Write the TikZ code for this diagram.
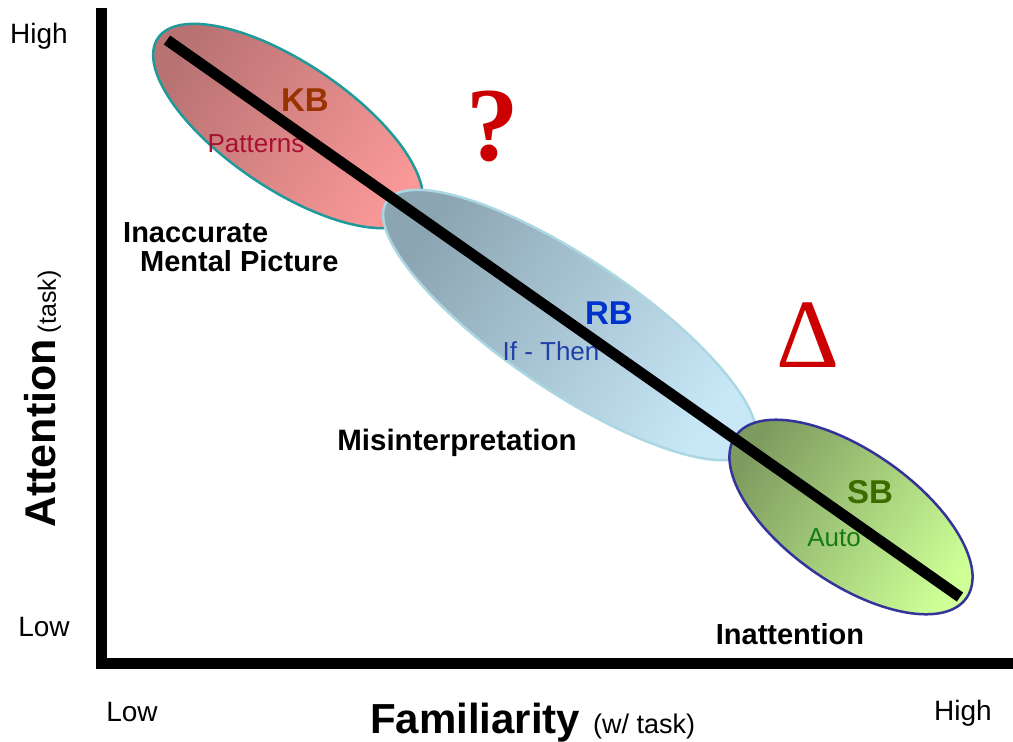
\documentclass[tikz,border=0pt]{standalone}
\usepackage{fontspec}
\setmainfont{Liberation Sans}
\newfontfamily\serifrm{Liberation Serif}
\newcommand\fsz[1]{\fontsize{#1}{#1}\selectfont}
\definecolor{kbdark}{HTML}{B87272}
\definecolor{kblight}{HTML}{FA9898}
\definecolor{kbedge}{HTML}{1E9A9A}
\definecolor{rbdark}{HTML}{8CA5B2}
\definecolor{rblight}{HTML}{C8E8F8}
\definecolor{rbedge}{HTML}{AAD7E1}
\definecolor{sbdark}{HTML}{7D9B5F}
\definecolor{sblight}{HTML}{CDFF96}
\definecolor{sbedge}{HTML}{333399}
\definecolor{kbtext}{HTML}{993300}
\definecolor{pattext}{HTML}{A8102E}
\definecolor{rbtext}{HTML}{0033CC}
\definecolor{iftext}{HTML}{2040A8}
\definecolor{sbtext}{HTML}{3D6B00}
\definecolor{autotext}{HTML}{167A16}
\definecolor{signred}{HTML}{CC0000}
\begin{document}
\begin{tikzpicture}[x=1pt,y=-1pt,
  lbl/.style={inner sep=0pt, anchor=base},
  lblw/.style={inner sep=0pt, anchor=base west},
  blob/.style={line width=2.5pt, shading angle=56},
  axisline/.style={line width=11pt, line join=miter},
  diag/.style={line width=11pt}]
\useasboundingbox (0,0) rectangle (1013,742);
% ellipses
\path[blob, draw=kbedge, top color=kbdark, bottom color=kblight, shading angle=56,
  rotate around={-34:(288,126)}] (288,126) ellipse [x radius=157, y radius=63];
\path[blob, draw=rbedge, top color=rbdark, bottom color=rblight, shading angle=56,
  rotate around={-34:(570,325)}] (570,325) ellipse [x radius=221, y radius=66];
\path[blob, draw=sbedge, top color=sbdark, bottom color=sblight, shading angle=56,
  rotate around={-35:(851,517)}] (851,517) ellipse [x radius=141, y radius=66];
% labels inside ellipses
\node[lbl, text=kbtext, font={\bfseries\fsz{33}}] (kb) at (305,111) {KB};
\node[lbl, text=pattext, font={\fsz{26}}] (pat) at (256,152) {Patterns};
\node[lbl, text=rbtext, font={\bfseries\fsz{33}}] (rb) at (609,324) {RB};
\node[lbl, text=iftext, font={\fsz{26}}] (ift) at (551,360) {If - Then};
\node[lbl, text=sbtext, font={\bfseries\fsz{33}}] (sb) at (870,503) {SB};
\node[lbl, text=autotext, font={\fsz{26}}] (auto) at (834,546) {Auto};
% error labels
\node[lblw, font={\bfseries\fsz{29}}] (inacc) at (123,242) {Inaccurate};
\node[lblw, font={\bfseries\fsz{29}}] (mental) at (140,271) {Mental Picture};
\node[lbl, font={\bfseries\fsz{29.5}}] (misint) at (457,450) {Misinterpretation};
\node[lbl, font={\bfseries\fsz{29}}] (inatt) at (790,644) {Inattention};
% symbols
\node[lbl, text=signred, font={\serifrm\bfseries\fsz{105}}] (quest) at (493,160) {?};
\node[lbl, text=signred, font={\serifrm\fsz{98}}] (delta) at (808,367) {Δ};
% axes
\coordinate (ytop) at (101,8);
\coordinate (orig) at (101,663);
\coordinate (xend) at (1013,663);
\draw[axisline] (ytop) -- (orig) -- (xend);
% diagonal
\coordinate (dstart) at (167,40);
\coordinate (dend) at (960,597);
\draw[diag] (dstart) -- (dend);
% axis labels
\node[lbl, font={\fsz{28}}] (yhigh) at (39,43) {High};
\node[lbl, font={\fsz{28}}] (ylow) at (44,636) {Low};
\node[lbl, font={\fsz{28}}] (xlow) at (132,721) {Low};
\node[lbl, font={\fsz{28}}] (xhigh) at (963,720) {High};
\node[lblw, font={\bfseries\fsz{42}}] (fam) at (370,733) {Familiarity};
\node[lblw, font={\fsz{27}}] (famsub) at (593,733) {(w/ task)};
\node[lblw, rotate=90] (att) at (56,528) {{\bfseries\fsz{43}Attention}\hspace{6pt}{\fsz{25}(task)}};
\end{tikzpicture}
\end{document}
